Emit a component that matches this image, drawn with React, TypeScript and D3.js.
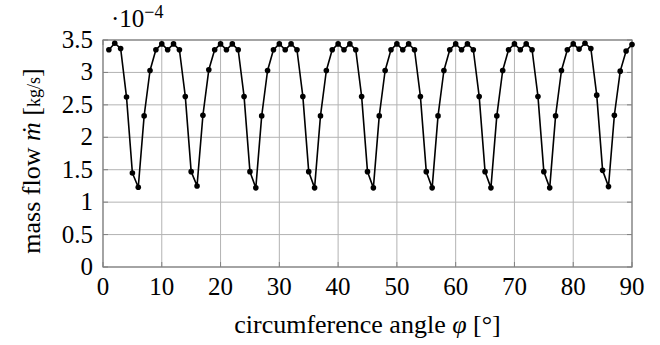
import React from "react";
import * as d3 from "d3";

const angles: number[] = [
  1, 2, 3, 4, 5, 6, 7, 8, 9, 10,
  11, 12, 13, 14, 15, 16, 17, 18, 19, 20,
  21, 22, 23, 24, 25, 26, 27, 28, 29, 30,
  31, 32, 33, 34, 35, 36, 37, 38, 39, 40,
  41, 42, 43, 44, 45, 46, 47, 48, 49, 50,
  51, 52, 53, 54, 55, 56, 57, 58, 59, 60,
  61, 62, 63, 64, 65, 66, 67, 68, 69, 70,
  71, 72, 73, 74, 75, 76, 77, 78, 79, 80,
  81, 82, 83, 84, 85, 86, 87, 88, 89, 90,
];

// mass flow in 1e-4 kg/s
const massFlow: number[] = [
  3.35, 3.45, 3.37, 2.62, 1.45, 1.23, 2.33, 3.03, 3.35, 3.44,
  3.35, 3.44, 3.35, 2.63, 1.47, 1.25, 2.34, 3.04, 3.35, 3.44,
  3.35, 3.44, 3.35, 2.63, 1.47, 1.22, 2.33, 3.03, 3.35, 3.44,
  3.35, 3.44, 3.35, 2.63, 1.47, 1.22, 2.33, 3.03, 3.35, 3.44,
  3.35, 3.44, 3.35, 2.63, 1.47, 1.22, 2.33, 3.03, 3.35, 3.44,
  3.35, 3.44, 3.35, 2.63, 1.47, 1.22, 2.33, 3.03, 3.35, 3.44,
  3.35, 3.44, 3.35, 2.63, 1.47, 1.22, 2.33, 3.03, 3.35, 3.44,
  3.35, 3.44, 3.35, 2.63, 1.47, 1.22, 2.33, 3.03, 3.35, 3.44,
  3.36, 3.45, 3.37, 2.65, 1.49, 1.24, 2.34, 3.02, 3.33, 3.43,
];

const xTicks: number[] = [0, 10, 20, 30, 40, 50, 60, 70, 80, 90];
const yTicks: number[] = [0, 0.5, 1, 1.5, 2, 2.5, 3, 3.5];

const W = 660;
const H = 345;
const left = 103;
const right = 632;
const top = 40;
const bottom = 267;
const FONT = "Liberation Serif";

export default function App() {
  const x = d3.scaleLinear().domain([0, 90]).range([left, right]);
  const y = d3.scaleLinear().domain([0, 3.5]).range([bottom, top]);
  const line = d3
    .line<number>()
    .x((_, i) => x(angles[i]))
    .y((d) => y(d));

  return (
    <svg
      width={W}
      height={H}
      style={{ position: "absolute", left: 0, top: 0, background: "#fff" }}
    >
      {/* grid */}
      {xTicks.map((t) => (
        <line key={"gx" + t} x1={x(t)} x2={x(t)} y1={top} y2={bottom} stroke="#b3b3b3" strokeWidth={1} />
      ))}
      {yTicks.map((t) => (
        <line key={"gy" + t} x1={left} x2={right} y1={y(t)} y2={y(t)} stroke="#b3b3b3" strokeWidth={1} />
      ))}
      {/* ticks */}
      {xTicks.map((t) => (
        <g key={"tx" + t}>
          <line x1={x(t)} x2={x(t)} y1={bottom} y2={bottom - 5} stroke="#808080" strokeWidth={1} />
          <line x1={x(t)} x2={x(t)} y1={top} y2={top + 5} stroke="#808080" strokeWidth={1} />
        </g>
      ))}
      {yTicks.map((t) => (
        <g key={"ty" + t}>
          <line x1={left} x2={left + 5} y1={y(t)} y2={y(t)} stroke="#808080" strokeWidth={1} />
          <line x1={right} x2={right - 5} y1={y(t)} y2={y(t)} stroke="#808080" strokeWidth={1} />
        </g>
      ))}
      {/* frame */}
      <rect x={left} y={top} width={right - left} height={bottom - top} fill="none" stroke="#808080" strokeWidth={1.2} />

      {/* data */}
      <path d={line(massFlow) || ""} fill="none" stroke="#000" strokeWidth={1.6} strokeLinejoin="round" />
      {massFlow.map((v, i) => (
        <circle key={"p" + i} cx={x(angles[i])} cy={y(v)} r={2.8} fill="#000" />
      ))}

      {/* tick labels */}
      {xTicks.map((t) => (
        <text key={"lx" + t} x={x(t)} y={bottom + 28} textAnchor="middle" fontSize={25} fontFamily={FONT}>
          {t}
        </text>
      ))}
      {yTicks.map((t) => (
        <text key={"ly" + t} x={left - 10} y={y(t) + 8} textAnchor="end" fontSize={25} fontFamily={FONT}>
          {t}
        </text>
      ))}

      {/* scale factor */}
      <text x={111} y={27} fontSize={25} fontFamily={FONT}>
        ·10
        <tspan fontSize={18} dy={-9}>−4</tspan>
      </text>

      {/* axis labels */}
      <text x={(left + right) / 2} y={333} textAnchor="middle" fontSize={26} fontFamily={FONT}>
        circumference angle <tspan fontStyle="italic">φ</tspan> [°]
      </text>
      <text
        transform={`translate(40, 161) rotate(-90)`}
        textAnchor="middle"
        fontSize={26}
        fontFamily={FONT}
      >
        mass flow <tspan fontStyle="italic">ṁ</tspan> [<tspan fontSize={18}>kg/s</tspan>]
      </text>
    </svg>
  );
}
